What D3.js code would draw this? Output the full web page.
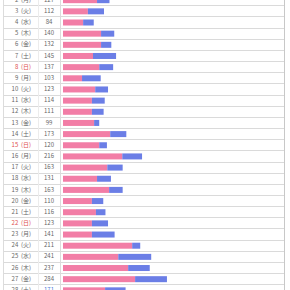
<!DOCTYPE html>
<html><head><meta charset="utf-8">
<script src="https://cdn.jsdelivr.net/npm/d3@7"></script>
<style>
html,body{margin:0;padding:0;background:#fff;overflow:hidden;}
svg{display:block;}
text{font-family:"Noto Sans CJK JP","Noto Sans",sans-serif;font-size:6px;white-space:pre;}
</style></head>
<body>
<svg id="c" width="290" height="290"></svg>
<script>
const days     = [2,3,4,5,6,7,8,9,10,11,12,13,14,15,16,17,18,19,20,21,22,23,24,25,26,27,28];
const weekdays = ["月","火","水","木","金","土","日","月","火","水","木","金","土","日","月","火","水","木","金","土","日","月","火","水","木","金","土"];
const totals   = [127,112,84,140,132,145,137,103,123,114,111,99,173,120,216,163,131,163,110,116,123,141,211,241,237,284,171];
const newVisits= [93,68,55,104,104,82,99,52,88,79,79,85,129,99,162,121,93,126,79,90,79,79,189,151,178,197,115];
const repeatVisits = totals.map((t,i)=>t-newVisits[i]);
const redDays  = [8,15,22];
const todayDay = 28;

const svg = d3.select("#c");
const rowH = 11.16, top0 = -5.9;
const y = d3.scaleBand().domain(days).range([top0, top0 + days.length*rowH]).padding(0);
const x = d3.scaleLinear().domain([0,284]).range([63, 63+284*0.366]);

const left = 3, right = 284, div1 = 38, div2 = 60;
const g = svg.append("g");

// row lines
g.selectAll("line.h").data(days).join("line")
  .attr("x1",left).attr("x2",right)
  .attr("y1",d=>Math.round(y(d)+rowH)+0.5).attr("y2",d=>Math.round(y(d)+rowH)+0.5)
  .attr("stroke","#dadada").attr("stroke-width",1.2);

// vertical borders
[left, div1, div2, right].forEach(xx=>{
  g.append("line").attr("x1",xx+0.5).attr("x2",xx+0.5).attr("y1",0).attr("y2",290)
   .attr("stroke", xx===right ? "#c8c8c8" : (xx===div1 ? "#ececec" : "#dcdcdc")).attr("stroke-width",1);
});

const rows = g.selectAll("g.row").data(days).join("g")
  .attr("transform",d=>`translate(0,${y(d)+rowH/2})`);

rows.append("text")
  .attr("x",31).attr("dy","0.35em").attr("text-anchor","end")
  .attr("fill",(d)=>redDays.includes(d)?"#e05050":"#666")
  .text((d,i)=>`${d}\u00a0\u00a0(${weekdays[i]})`);

rows.append("text")
  .attr("x",49).attr("dy","0.35em").attr("text-anchor","middle")
  .attr("fill",d=>d===todayDay?"#4a7ad8":"#666")
  .text((d,i)=>totals[i]);

const bh = 6;
rows.append("rect")
  .attr("x",x(0)).attr("y",-bh/2+0.5).attr("height",bh)
  .attr("width",(d,i)=>x(newVisits[i])-x(0))
  .attr("fill","#f27da6");
rows.append("rect")
  .attr("x",(d,i)=>x(newVisits[i])).attr("y",-bh/2+0.5).attr("height",bh)
  .attr("width",(d,i)=>x(totals[i])-x(newVisits[i]))
  .attr("fill","#6b7ee6");
</script>
</body></html>
